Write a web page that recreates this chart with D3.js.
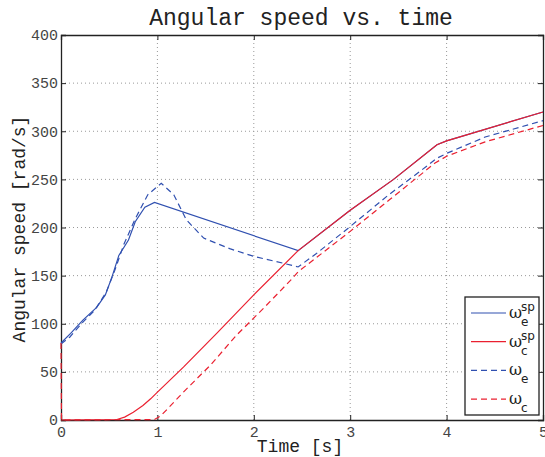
<!DOCTYPE html>
<html>
<head>
<meta charset="utf-8">
<script src="https://cdn.jsdelivr.net/npm/d3@7"></script>
<style>
  body { margin: 0; background: #fff; }
  svg { display: block; }
  text { font-family: "Liberation Mono", "Courier New", monospace; }
</style>
</head>
<body>
<script>
// Time axis [s] and angular speed [rad/s] samples for each signal
const xTicks = [0, 1, 2, 3, 4, 5];
const yTicks = [0, 50, 100, 150, 200, 250, 300, 350, 400];

// engine speed set-point
const omegaEsp = [
  [0, 80], [0.1, 90], [0.23, 104], [0.37, 117], [0.46, 130], [0.53, 149],
  [0.6, 171], [0.7, 187], [0.77, 206], [0.87, 221], [0.97, 226], [2.46, 176],
  [3.0, 218], [3.45, 250], [3.9, 286], [4.0, 290], [5, 320]
];
// clutch speed set-point
const omegaCsp = [
  [0, 0], [0.58, 0.5], [0.66, 3], [0.75, 8], [0.85, 15], [0.93, 22], [0.99, 28],
  [1.27, 55], [1.615, 90], [2.0, 130], [2.46, 176], [3.0, 218], [3.45, 250],
  [3.9, 286], [4.0, 290], [5, 320]
];
// measured engine speed
const omegaE = [
  [0, 79], [0.09, 86], [0.23, 102], [0.35, 114], [0.47, 133], [0.56, 156],
  [0.65, 182], [0.77, 209], [0.9, 234], [1.04, 246], [1.17, 234], [1.3, 208],
  [1.48, 189], [1.75, 178], [2.0, 170], [2.3, 163], [2.46, 159], [2.65, 173],
  [3.0, 201], [3.4, 234], [3.72, 258], [3.9, 272], [4.0, 277], [4.4, 294], [5, 311]
];
// measured clutch speed
const omegaC = [
  [0, 80], [0.005, 0], [0.97, 0.5], [1.03, 4], [1.1, 11], [1.27, 29], [1.55, 57],
  [1.82, 88], [2.1, 116], [2.38, 145], [2.46, 154], [3.0, 196], [3.41, 229],
  [3.88, 267], [4.0, 274], [4.4, 289], [5, 306]
];

const W = 545, H = 457;
const m = { left: 61, right: 2, top: 35, bottom: 37 };
const iw = W - m.left - m.right, ih = H - m.top - m.bottom;

const blue = "#3050b0", red = "#ea2030";

const svg = d3.select("body").append("svg").attr("width", W).attr("height", H);
const g = svg.append("g").attr("transform", `translate(${m.left},${m.top})`);

const x = d3.scaleLinear().domain([0, 5]).range([0, iw]);
const y = d3.scaleLinear().domain([0, 400]).range([ih, 0]);

// dotted grid
g.append("g").selectAll("line").data(xTicks.slice(1, -1)).join("line")
  .attr("x1", d => x(d)).attr("x2", d => x(d)).attr("y1", 0).attr("y2", ih)
  .attr("stroke", "#999").attr("stroke-width", 1).attr("stroke-dasharray", "1,3");
g.append("g").selectAll("line").data(yTicks.slice(1, -1)).join("line")
  .attr("y1", d => y(d)).attr("y2", d => y(d)).attr("x1", 0).attr("x2", iw)
  .attr("stroke", "#999").attr("stroke-width", 1).attr("stroke-dasharray", "1,3");

// axes with inward ticks
const xAxis = g.append("g").attr("transform", `translate(0,${ih})`)
  .call(d3.axisBottom(x).tickValues(xTicks).tickSize(-5).tickPadding(6).tickFormat(d3.format("d")));
const xAxisTop = g.append("g")
  .call(d3.axisTop(x).tickValues(xTicks).tickSize(-5).tickFormat(""));
const yAxis = g.append("g")
  .call(d3.axisLeft(y).tickValues(yTicks).tickSize(-5).tickPadding(3).tickFormat(d3.format("d")));
const yAxisRight = g.append("g").attr("transform", `translate(${iw},0)`)
  .call(d3.axisRight(y).tickValues(yTicks).tickSize(-5).tickFormat(""));

[xAxis, xAxisTop, yAxis, yAxisRight].forEach(a => {
  a.select(".domain").attr("stroke", "#222").attr("stroke-width", 1.3);
  a.selectAll(".tick line").attr("stroke", "#222");
  a.selectAll("text").attr("fill", "#444").style("font-size", "15px")
    .style("font-family", "'Liberation Mono', 'Courier New', monospace");
});

// signal curves
const line = d3.line().x(d => x(d[0])).y(d => y(d[1]));
const curves = [
  { data: omegaEsp, color: blue, dash: null },
  { data: omegaE, color: blue, dash: "6,4" },
  { data: omegaC, color: red, dash: "6,4" },
  { data: omegaCsp, color: red, dash: null }
];
g.append("g").selectAll("path").data(curves).join("path")
  .attr("d", d => line(d.data))
  .attr("fill", "none")
  .attr("stroke", d => d.color)
  .attr("stroke-width", 1.2)
  .attr("stroke-dasharray", d => d.dash);

// title and axis labels
svg.append("text").attr("x", 301).attr("y", 25).attr("text-anchor", "middle")
  .attr("fill", "#222").style("font-size", "23px").text("Angular speed vs. time");
svg.append("text").attr("x", 300).attr("y", 452).attr("text-anchor", "middle")
  .attr("fill", "#222").style("font-size", "18px").text("Time [s]");
svg.append("text").attr("transform", "translate(25,229) rotate(-90)").attr("text-anchor", "middle")
  .attr("fill", "#222").style("font-size", "18px").text("Angular speed [rad/s]");

// legend
const legendItems = [
  { sub: "e", sup: "sp", color: blue, dash: null },
  { sub: "c", sup: "sp", color: red, dash: null },
  { sub: "e", sup: "", color: blue, dash: "6,4" },
  { sub: "c", sup: "", color: red, dash: "6,4" }
];
const lg = svg.append("g");
lg.append("rect").attr("x", 465).attr("y", 297).attr("width", 74).attr("height", 118)
  .attr("fill", "#fff").attr("stroke", "#222").attr("stroke-width", 1.3);
const rows = lg.selectAll("g.row").data(legendItems).join("g")
  .attr("class", "row")
  .attr("transform", (d, i) => `translate(0,${313 + i * 28.7})`);
rows.append("line").attr("x1", 471).attr("x2", 506).attr("y1", 0).attr("y2", 0)
  .attr("stroke", d => d.color).attr("stroke-width", 1.2).attr("stroke-dasharray", d => d.dash);
rows.append("text").attr("x", 509).attr("y", 5)
  .attr("fill", "#222").style("font-family", "'DejaVu Serif', serif").style("font-size", "16px")
  .text("ω");
rows.append("text").attr("x", 521).attr("y", -2)
  .attr("fill", "#222").style("font-family", "'DejaVu Sans', sans-serif").style("font-size", "12px")
  .text(d => d.sup);
rows.append("text").attr("x", 521).attr("y", 13)
  .attr("fill", "#222").style("font-family", "'DejaVu Sans', sans-serif").style("font-size", "12px")
  .text(d => d.sub);
</script>
</body>
</html>
